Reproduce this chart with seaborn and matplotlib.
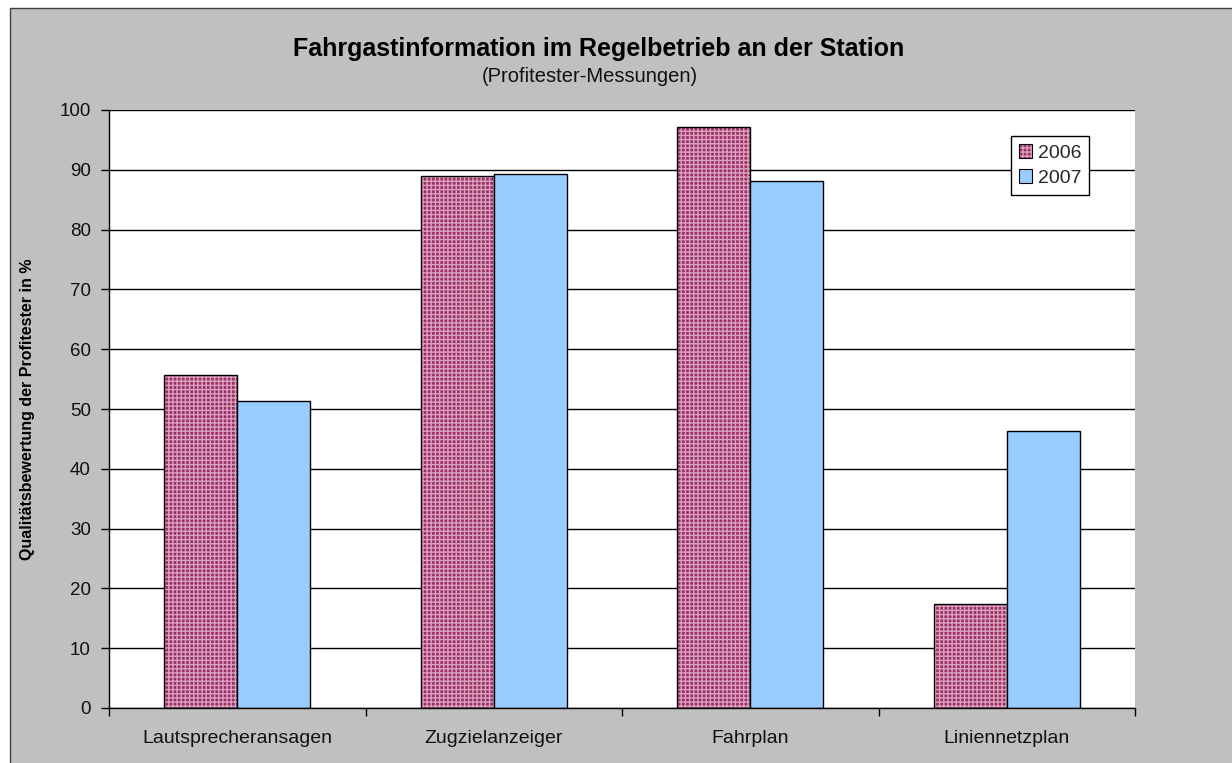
import matplotlib
matplotlib.use("Agg")
import matplotlib.pyplot as plt
import numpy as np
import pandas as pd
import seaborn as sns
from matplotlib.patches import Rectangle, Patch
from matplotlib.colors import to_rgba
from matplotlib.ticker import FixedLocator

# ---- data ----
categories = ["Lautsprecheransagen", "Zugzielanzeiger", "Fahrplan", "Liniennetzplan"]
years = ["2006", "2007"]
values_2006 = [55.7, 89.0, 97.2, 17.4]
values_2007 = [51.3, 89.3, 88.2, 46.3]
y_ticks = [0, 10, 20, 30, 40, 50, 60, 70, 80, 90, 100]

title = "Fahrgastinformation im Regelbetrieb an der Station"
subtitle = "(Profitester-Messungen)"
y_label = "Qualitätsbewertung der Profitester in %"

df = pd.DataFrame({
    "Kategorie": categories * 2,
    "Jahr": [years[0]] * len(categories) + [years[1]] * len(categories),
    "Wert": values_2006 + values_2007,
})

# ---- style ----
sns.set_theme(style="white")
plt.rcParams["font.family"] = ["Liberation Sans", "DejaVu Sans"]
plt.rcParams["hatch.linewidth"] = 1.0

W, H = 1232, 763
fig = plt.figure(figsize=(W / 100, H / 100), dpi=100, facecolor="white")
fig.patches.append(Rectangle((9.5 / W, -0.01), 1.1, 1 - 7.5 / H + 0.01,
                             transform=fig.transFigure, facecolor="#c0c0c0",
                             edgecolor="#404040", lw=1.0, zorder=-10))

ax = fig.add_axes([109 / W, 1 - 708 / H, (1135 - 109) / W, (708 - 110) / H])
ax.set_facecolor("white")

pink = "#993366"
blue = "#99ccff"
hatch_col = "#dca0be"

sns.barplot(data=df, x="Kategorie", y="Wert", hue="Jahr", order=categories,
            hue_order=years, palette={years[0]: pink, years[1]: blue},
            width=0.57, saturation=1, edgecolor="black", linewidth=1.0,
            legend=False, ax=ax, zorder=3)

for bar in ax.containers[0]:
    bar.set_hatch("++++")
    bar.set_edgecolor("black")
    bar._hatch_color = to_rgba(hatch_col)

ax.set_xlim(-0.5, len(categories) - 0.5)
ax.set_ylim(0, 100)
ax.set_yticks(y_ticks)
ax.set_yticklabels([str(v) for v in y_ticks])
ax.yaxis.grid(True, color="black", lw=1.0, zorder=0)
ax.xaxis.grid(False)
ax.set_axisbelow(True)

for s in ["top", "right"]:
    ax.spines[s].set_visible(False)
for s in ["left", "bottom"]:
    ax.spines[s].set_color("black")
    ax.spines[s].set_linewidth(1.0)
    ax.spines[s].set_zorder(5)

ax.tick_params(axis="y", which="major", direction="out", length=6, width=1,
               color="black", labelsize=13.5, labelcolor="#111111", pad=7, left=True)
ax.tick_params(axis="x", which="major", length=0, labelsize=14,
               labelcolor="#111111", pad=16)
ax.xaxis.set_minor_locator(FixedLocator(np.arange(-0.5, len(categories), 1.0)))
ax.tick_params(axis="x", which="minor", direction="out", length=6, width=1,
               color="black", bottom=True)
ax.set_xlabel("")
ax.set_ylabel(y_label, fontsize=11.5, fontweight="bold", color="black")
ax.yaxis.set_label_coords(-0.072, 0.5)

# legend
h1 = Patch(facecolor=pink, edgecolor="black", hatch="++++", lw=0.8, label=years[0])
h1._hatch_color = to_rgba(hatch_col)
h2 = Patch(facecolor=blue, edgecolor="black", lw=0.8, label=years[1])
leg = ax.legend(handles=[h1, h2], loc="upper left", bbox_to_anchor=(0.879, 0.956),
                fontsize=14, frameon=True, fancybox=False, framealpha=1,
                edgecolor="black", handlelength=0.7, handleheight=0.7,
                handletextpad=0.3, borderpad=0.4, labelspacing=0.4,
                borderaxespad=0)
leg.get_frame().set_linewidth(1.0)
leg.set_zorder(10)

fig.text(599 / W, 1 - 49 / H, title, ha="center", va="center",
         fontsize=18, fontweight="bold", color="black")
fig.text(590 / W, 1 - 77 / H, subtitle, ha="center", va="center",
         fontsize=14.5, color="#111111")

fig.savefig("out.png", dpi=100, facecolor=fig.get_facecolor())
